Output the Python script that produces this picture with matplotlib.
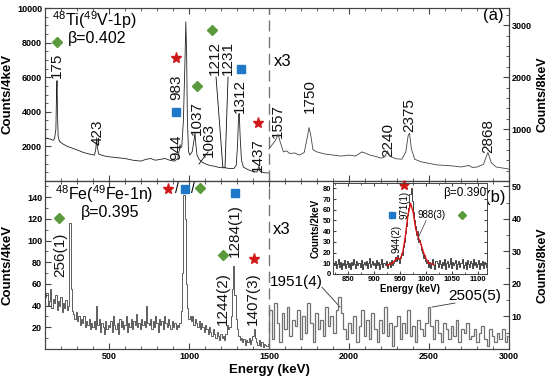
import numpy as np
import matplotlib.pyplot as plt
from matplotlib.ticker import MultipleLocator

plt.rcParams['font.family'] = ['Liberation Sans', 'DejaVu Sans']
plt.rcParams['mathtext.fontset'] = 'custom'
plt.rcParams['mathtext.rm'] = 'Liberation Sans'
plt.rcParams['mathtext.default'] = 'regular'

# ---- data ----
# top panel, 48Ti(49V-1p), counts/4keV below 1500 keV
top_e_lo = [100, 120, 140, 150, 160, 168, 172, 175, 178, 182, 190, 210, 240, 270, 300, 340, 380, 410,
            418, 423, 428, 436, 470, 500, 550, 600, 650, 700, 730, 760, 790, 820, 850, 880, 910, 930,
            940, 944, 948, 955, 965, 975, 980, 985, 990, 997, 1005, 1020, 1032, 1037, 1042, 1050,
            1063, 1080, 1100, 1130, 1160, 1190, 1212, 1231, 1250, 1280, 1295, 1303, 1310, 1314,
            1320, 1328, 1340, 1370, 1400, 1425, 1437, 1445, 1470, 1500]
top_c_lo = [2500, 2450, 2400, 2350, 2450, 3000, 5000, 5800, 4000, 2600, 2300, 2150, 2000, 1900, 1800,
            1650, 1550, 1500, 1900, 2500, 1900, 1550, 1450, 1400, 1350, 1300, 1200, 1150, 1250, 1300,
            1200, 1250, 1300, 1200, 1150, 1300, 1800, 2100, 1900, 2000, 3500, 7000, 9200, 7500, 3500,
            1700, 1500, 1700, 2400, 2800, 2200, 1500, 1250, 1100, 1000, 900, 850, 780, 800, 760, 720,
            720, 900, 2000, 3800, 3900, 2500, 1200, 800, 650, 550, 520, 850, 550, 480, 460]
# top panel, counts/8keV above 1500 keV (x3)
top_e_hi = [1500, 1520, 1540, 1557, 1570, 1590, 1610, 1630, 1660, 1690, 1720, 1740, 1750, 1760, 1775,
            1800, 1850, 1900, 1950, 2000, 2040, 2080, 2100, 2130, 2170, 2200, 2225, 2240, 2255, 2290,
            2330, 2355, 2370, 2378, 2390, 2410, 2450, 2500, 2550, 2600, 2650, 2700, 2750, 2770, 2800,
            2840, 2868, 2890, 2920, 2960, 3000]
top_c_hi = [620, 700, 780, 900, 750, 560, 580, 530, 540, 500, 550, 850, 1030, 900, 600, 560, 520, 500,
            480, 500, 480, 560, 540, 500, 470, 440, 470, 580, 480, 430, 420, 560, 880, 920, 620, 420,
            370, 340, 310, 300, 290, 270, 300, 260, 270, 320, 550, 350, 270, 250, 230]

# bottom panel, 48Fe(49Fe-1n), counts/4keV in 8 keV bins from 100 keV
bot_lo = ([48, 52, 40, 44, 55, 38, 46, 42, 50, 36, 44, 40, 48, 34, 42, 38, 45, 36, 40]
          + [116, 55, 35]
          + [32, 28, 34, 26, 30, 22, 28, 24, 30, 20, 26, 22, 28, 18, 24, 20]
          + [26, 18, 40, 22, 28, 16, 24, 20, 14, 26, 18, 22]
          + [20, 26, 16, 30, 22, 18, 24, 14, 28, 20, 26, 18, 22, 30, 16, 24, 20, 28, 18, 26, 22, 32,
             20, 24, 18, 28, 22, 26, 20]
          + [40, 24]
          + [22, 28, 18, 26, 20, 30, 24, 16, 28, 22, 26, 18, 30, 24, 20, 28, 22, 18, 26, 20, 24, 18, 22]
          + [20, 24, 35, 70, 142, 120, 60, 38, 28, 30]
          + [26, 30, 22, 28, 24, 20, 26, 18, 24, 20, 16, 22, 18, 14, 20, 16, 12, 18, 14, 10, 16, 12, 8,
             14, 10, 12, 8]
          + [14, 22, 18, 20, 30, 55, 77, 50, 28]
          + [18, 12, 8, 10, 6, 9, 4, 8, 6, 10, 5, 8, 12]
          + [18, 10]
          + [6, 4, 8, 3, 6, 2, 5, 4, 3, 5])
# counts/8keV in 16 keV bins from 1500 keV (x3)
bot_hi = [12, 3, 14, 8, 2, 11, 6, 13, 4, 9, 7, 12, 3, 10, 5, 14, 8, 2, 11, 6,
          9, 4, 13, 7, 10, 5, 12, 16, 11, 6, 3, 8, 5, 10, 2, 7, 12, 4, 9, 3,
          11, 6, 2, 9, 5, 13, 4, 8, 1, 7, 10, 3, 8, 5, 12, 4, 7, 2, 9, 6,
          4, 8, 13, 7, 3, 9, 5, 2, 8, 6, 3, 7, 4, 9, 2, 6, 5, 8, 3, 4,
          6, 2, 5, 7, 3, 1, 6, 4, 2, 5, 3, 6, 2, 4]

# inset, counts/2keV from 820 keV
ins_counts = ([10, 8, 12, 6, 9, 14, 7, 11, 5, 10, 8, 13, 6, 9, 12, 7, 10, 5, 11, 8,
               14, 9, 6, 12, 8, 10, 7, 13, 5, 9, 11, 8, 12, 6, 10, 15, 7, 9, 12, 8]
              + [10, 6, 13, 8, 11, 5, 9, 14, 7, 10, 8, 12, 6, 9, 11, 7, 13, 8, 10, 12]
              + [16, 12, 18, 14, 10, 15, 20, 18, 25, 30]
              + [38, 45, 55, 62, 75, 80, 68, 58, 50, 45, 36, 40, 30, 32, 28, 22, 20, 15, 18, 12]
              + [10, 13, 7, 11, 6, 9, 14, 8, 5, 12, 10, 7, 13, 9, 6, 11, 8, 14, 5, 10,
                 12, 7, 9, 15, 6, 11, 8, 10, 13, 5, 9, 12, 7, 10, 14, 6, 8, 11, 5, 13,
                 9, 7, 12, 10, 6, 14, 8, 11, 7, 9, 13, 5, 10, 8, 12, 6, 11, 9, 7, 10])
fit_e = [925, 935, 944, 950, 955, 960, 965, 970, 975, 980, 985, 990, 995, 1000, 1005, 1015]
fit_c = [8, 10, 15, 14, 20, 35, 55, 66, 58, 42, 34, 28, 20, 14, 10, 9]

GREEN = '#5a9a3c'
BLUE = '#1f78c8'
RED = '#d01818'
FR = '#444444'

fig = plt.figure(figsize=(5.5, 3.8), dpi=100)
ax1 = fig.add_axes([45 / 550, 1 - 181 / 380, 464 / 550, 173 / 380])
ax2 = fig.add_axes([45 / 550, 1 - 349 / 380, 464 / 550, 168 / 380], sharex=ax1)
ax1r = ax1.twinx()
ax2r = ax2.twinx()

ax1.plot(top_e_lo, top_c_lo, color='#222222', lw=0.6)
ax1r.plot(top_e_hi, top_c_hi, color='#444444', lw=0.6)
ax2.stairs(bot_lo, 100 + 8 * np.arange(len(bot_lo) + 1), color='#333333', lw=0.55)
ax2r.stairs(bot_hi, 1500 + 16 * np.arange(len(bot_hi) + 1), color='#707070', lw=0.9)

ax1.set_xlim(100, 3000)
ax1.set_ylim(0, 10000)
ax1r.set_ylim(0, 10000 / 3)
ax2.set_ylim(0, 155)
ax2r.set_ylim(0, 155 / 3)

for a in (ax1, ax2):
    a.axvline(1500, color='#777777', lw=1.0, ls=(0, (8, 4)))

ax1.set_yticks([2000, 4000, 6000, 8000, 10000])
ax1.yaxis.set_minor_locator(MultipleLocator(500))
ax1r.set_yticks([1000, 2000, 3000])
ax1r.yaxis.set_minor_locator(MultipleLocator(200))
ax2.set_yticks([20, 40, 60, 80, 100, 120, 140])
ax2.yaxis.set_minor_locator(MultipleLocator(10))
ax2r.set_yticks([10, 20, 30, 40, 50])
ax2r.yaxis.set_minor_locator(MultipleLocator(5))
ax2.set_xticks([500, 1000, 1500, 2000, 2500, 3000])
ax2.xaxis.set_minor_locator(MultipleLocator(100))
plt.setp(ax1.get_xticklabels(), visible=False)

for a in (ax1, ax2, ax1r, ax2r):
    a.tick_params(which='both', direction='in', top=True, color=FR, labelsize=6.5, pad=2)
    a.tick_params(which='major', length=4)
    a.tick_params(which='minor', length=2)
    for lab in a.get_xticklabels() + a.get_yticklabels():
        lab.set_fontweight('bold')
    for s in a.spines.values():
        s.set_color(FR)
        s.set_linewidth(0.8)

fig.text(8 / 550, 1 - 94 / 380, 'Counts/4keV', rotation=90, ha='center', va='center', fontsize=9.5, fontweight='bold')
fig.text(8 / 550, 1 - 265 / 380, 'Counts/4keV', rotation=90, ha='center', va='center', fontsize=9.5, fontweight='bold')
fig.text(542 / 550, 1 - 94 / 380, 'Counts/8keV', rotation=90, ha='center', va='center', fontsize=9, fontweight='bold')
fig.text(542 / 550, 1 - 265 / 380, 'Counts/8keV', rotation=90, ha='center', va='center', fontsize=9, fontweight='bold')
fig.text(269 / 550, 1 - 370 / 380, 'Energy (keV)', ha='center', va='center', fontsize=9.5, fontweight='bold')

# ---- top panel annotations ----
def vlab(ax, x, y, s, fs=11):
    ax.text(x, y, s, rotation=90, ha='center', va='bottom', fontsize=fs, color='#111111')

ax1.text(144, 9300, r'$^{48}$Ti($^{49}$V-1p)', fontsize=11.5, va='center')
ax1.text(244, 8250, 'β=0.402', fontsize=11.5, va='center')
vlab(ax1, 175, 5950, '175')
vlab(ax1, 431, 2080, '423')
vlab(ax1, 919, 1210, '944')
vlab(ax1, 919, 4680, '983')
vlab(ax1, 1050, 2660, '1037')
vlab(ax1, 1125, 1390, '1063')
vlab(ax1, 1160, 6130, '1212')
vlab(ax1, 1246, 6130, '1231')
vlab(ax1, 1319, 3930, '1312')
vlab(ax1, 1431, 520, '1437')
vlab(ax1, 1556, 2490, '1557')
vlab(ax1, 1756, 3930, '1750')
vlab(ax1, 2244, 1390, '2240')
vlab(ax1, 2375, 2830, '2375')
vlab(ax1, 2869, 1620, '2868')
ax1.plot([1119, 1062], [1680, 980], color='#111111', lw=0.6)
ax1.plot([1169, 1212], [6010, 750], color='#111111', lw=0.6)
ax1.plot([1244, 1225], [6010, 750], color='#111111', lw=0.6)
ax1.text(1588, 6880, 'x3', fontsize=12, ha='center', va='center')
ax1.text(2900, 9540, '(a)', fontsize=12, ha='center', va='center')
ax1.plot([172, 1050, 1144], [8030, 5490, 8730], ls='none', marker='D', ms=5, color=GREEN)
ax1.plot([921, 1325], [3990, 6470], ls='none', marker='s', ms=5.5, color=BLUE)
ax1.plot([919, 1431], [7110, 3350], ls='none', marker='*', ms=8, color=RED)

# ---- bottom panel annotations ----
ax2.text(162, 143, r'$^{48}$Fe($^{49}$Fe-1n)', fontsize=11.5, va='center')
ax2.text(506, 126, 'β=0.395', fontsize=11.5, ha='center', va='center')
vlab(ax2, 194, 66, '256(1)')
vlab(ax2, 1212, 22, '1244(2)')
vlab(ax2, 1287, 85, '1284(1)')
vlab(ax2, 1400, 22, '1407(3)')
ax2.text(922, 147.6, '/', fontsize=10, ha='center', va='center')
ax2.text(1022, 147.6, '/', fontsize=10, ha='center', va='center')
ax2.plot([187, 1212, 1069], [121, 86.7, 148.5], ls='none', marker='D', ms=5, color=GREEN)
ax2.plot([975, 1287], [147.6, 144], ls='none', marker='s', ms=5.5, color=BLUE)
ax2.plot([869, 1406], [147.6, 83], ls='none', marker='*', ms=8, color=RED)
ax2.text(1581, 110.7, 'x3', fontsize=12, ha='center', va='center')
ax2.text(1669, 61.8, '1951(4)', fontsize=11, ha='center', va='center')
ax2.plot([1831, 1944], [57, 38.7], color='#333333', lw=0.6)
ax2.text(2787, 48.9, '2505(5)', fontsize=11, ha='center', va='center')
ax2.plot([2662, 2519], [42.4, 38.7], color='#333333', lw=0.6)
ax2.text(2912, 140, '(b)', fontsize=12, ha='center', va='center')

# ---- inset ----
axi = fig.add_axes([333 / 550, 1 - 274 / 380, 154 / 550, 91 / 380])
axi.set_zorder(5)
axi.stairs(ins_counts, 820 + 2 * np.arange(len(ins_counts) + 1), color='#444444', lw=0.7)
axi.plot(fit_e, fit_c, color='#e01010', lw=1.0)
axi.set_xlim(821, 1117)
axi.set_ylim(0, 85)
axi.set_xticks([850, 900, 950, 1000, 1050, 1100])
axi.set_yticks(range(0, 90, 10))
axi.xaxis.set_minor_locator(MultipleLocator(25))
axi.tick_params(which='both', direction='in', labelsize=5.5, pad=1.5, color=FR, top=True, right=True)
axi.tick_params(which='major', length=2.5)
axi.tick_params(which='minor', length=1.5)
for lab in axi.get_xticklabels() + axi.get_yticklabels():
    lab.set_fontweight('bold')
for s in axi.spines.values():
    s.set_color(FR)
    s.set_linewidth(0.7)
axi.set_xlabel('Energy (keV)', fontsize=7, fontweight='bold', labelpad=1)
axi.set_ylabel('Counts/2keV', fontsize=7, fontweight='bold', labelpad=1)
axi.text(944, 20, '944(2)', rotation=90, fontsize=7, ha='center', va='bottom')
axi.text(958, 51, '971(1)', rotation=90, fontsize=7, ha='center', va='bottom')
axi.text(1010, 55, '988(3)', fontsize=7, ha='center', va='center')
axi.plot([1000, 983], [50, 32], color='#333333', lw=0.5)
axi.text(1115, 76, 'β=0.390', fontsize=8.5, ha='right', va='center')
axi.plot([934], [55], ls='none', marker='s', ms=5, color=BLUE)
axi.plot([1069], [55], ls='none', marker='D', ms=4.5, color=GREEN)
axi.plot([957], [83], ls='none', marker='*', ms=7, color=RED, clip_on=False)

fig.savefig('out.png', dpi=100)
